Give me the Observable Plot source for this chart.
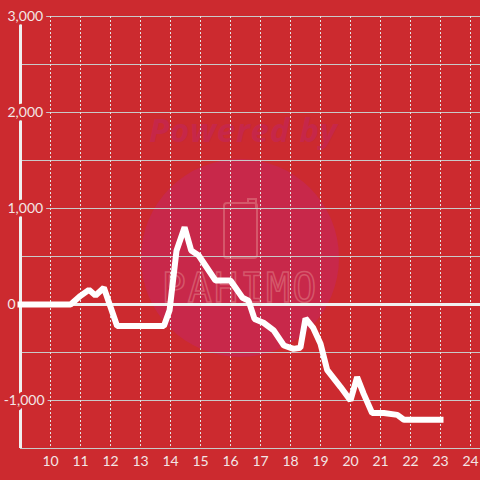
<!DOCTYPE html>
<html>
<head>
<meta charset="utf-8">
<script src="https://cdn.jsdelivr.net/npm/d3@7"></script>
<script src="https://cdn.jsdelivr.net/npm/@observablehq/plot@0.6"></script>
<style>
  html, body { margin: 0; padding: 0; background: #cc2a2f; }
  #chart { width: 480px; height: 480px; }
</style>
</head>
<body>
<div id="chart"></div>
<script>
// Series (x = hour, y = value)
const xs = [9, 10.67, 11.0, 11.28, 11.5, 11.78, 12.22, 13.78, 13.97, 14.2, 14.47, 14.69, 14.94, 15.5, 16.0, 16.4, 16.6, 16.8, 17.1, 17.44, 17.78, 18.1, 18.33, 18.5, 18.75, 19.0, 19.22, 19.67, 20.0, 20.22, 20.44, 20.72, 21.11, 21.56, 21.78, 23.0];
const ys = [0, 0, 90, 153, 94, 174, -225, -225, -60, 560, 805, 562, 510, 250, 250, 70, 40, -150, -190, -270, -427, -462, -450, -145, -240, -410, -680, -860, -1000, -757, -931, -1130, -1130, -1150, -1200, -1200];

const xTicks = [10, 11, 12, 13, 14, 15, 16, 17, 18, 19, 20, 21, 22, 23, 24];
const yGrid = [-1500, -1000, -500, 0, 500, 1000, 1500, 2000, 2500, 3000];
const yTickValues = [3000, 2000, 1000, 0, -1000];
const yTickLabels = ["3,000", "2,000", "1,000", "0", "-1,000"];

const data = xs.map((x, i) => ({x, y: ys[i]}));
const yLabels = yTickValues.map((v, i) => ({v, t: yTickLabels[i]}));
const bg = "#cc2a2f";
const labelColor = "#f3e6e6";

const chart = Plot.plot({
  width: 480,
  height: 480,
  marginLeft: 20,
  marginRight: 0,
  marginTop: 16,
  marginBottom: 32,
  x: {domain: [9, 24 + 1/3], axis: null, label: null},
  y: {domain: [-1500, 3000], axis: null, label: null},
  style: {background: bg, fontFamily: "Lato, sans-serif", fontSize: "14px", overflow: "visible"},
  marks: [
    Plot.ruleY(yGrid, {stroke: "#c9c9c9", strokeWidth: 1}),
    Plot.ruleX(xTicks, {stroke: "#e4e4e4", strokeWidth: 1, strokeDasharray: "2,2"}),
    Plot.ruleX([9], {stroke: "#f0f0f0", strokeWidth: 3}),
    Plot.ruleY([0], {stroke: "#f0f0f0", strokeWidth: 3}),
    Plot.text(yLabels.filter(d => !d.t.startsWith("-")), {
      x: () => 9, y: "v", text: "t",
      textAnchor: "start", dx: -13,
      fill: labelColor, stroke: bg, strokeWidth: 7
    }),
    Plot.text(yLabels.filter(d => d.t.startsWith("-")), {
      x: () => 9, y: "v", text: "t",
      textAnchor: "end", dx: 24,
      fill: labelColor, stroke: bg, strokeWidth: 7
    }),
    Plot.axisX(xTicks, {tickSize: 0, tickPadding: 8, color: labelColor, fontSize: 14, label: null}),
    Plot.line(data, {x: "x", y: "y", stroke: "white", strokeWidth: 6, strokeLinecap: "square", strokeLinejoin: "miter"})
  ]
});

// Watermark (decoration behind the marks)
const svg = d3.select(chart);
const wm = svg.insert("g", ":first-child").attr("class", "watermark");
wm.append("circle").attr("cx", 240).attr("cy", 258).attr("r", 99).attr("fill", "#c8284a");
wm.append("text").attr("x", 243).attr("y", 142).attr("text-anchor", "middle")
  .attr("font-family", "'Open Sans', sans-serif").attr("font-weight", 700).attr("font-style", "italic")
  .attr("font-size", 33).attr("fill", "#c62749").attr("textLength", 188).text("Powered by");
wm.append("rect").attr("x", 224).attr("y", 203).attr("width", 33).attr("height", 55).attr("rx", 3)
  .attr("fill", "none").attr("stroke", "#d5576a").attr("stroke-width", 2);
wm.append("path").attr("d", "M248,203 V199 H256 V208").attr("fill", "none").attr("stroke", "#d5576a").attr("stroke-width", 2);
wm.append("text").attr("x", 240).attr("y", 302).attr("text-anchor", "middle")
  .attr("font-family", "'DejaVu Sans Mono', monospace").attr("font-size", 40).attr("letter-spacing", 2)
  .attr("fill", "none").attr("stroke", "#d5576a").attr("stroke-width", 1.5).text("PAHIMO");

document.getElementById("chart").appendChild(chart);
</script>
</body>
</html>
